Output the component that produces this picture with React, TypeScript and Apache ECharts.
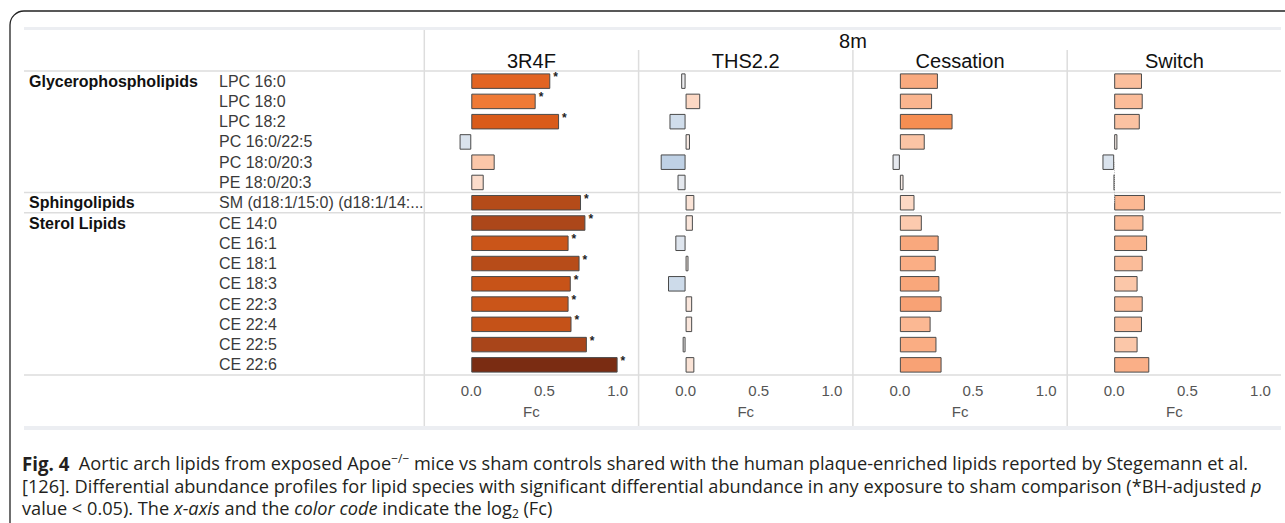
import React, { useEffect, useRef } from "react";
import * as echarts from "echarts";

// ---------------- data ----------------
const lipids = [
  "LPC 16:0",
  "LPC 18:0",
  "LPC 18:2",
  "PC 16:0/22:5",
  "PC 18:0/20:3",
  "PE 18:0/20:3",
  "SM (d18:1/15:0) (d18:1/14:...",
  "CE 14:0",
  "CE 16:1",
  "CE 18:1",
  "CE 18:3",
  "CE 22:3",
  "CE 22:4",
  "CE 22:5",
  "CE 22:6",
];
const groupNames = ["Glycerophospholipids", "Sphingolipids", "Sterol Lipids"];
const groupStarts = [0, 6, 7];

const exposures = ["3R4F", "THS2.2", "Cessation", "Switch"];
const timepoint = "8m";

const fc3R4F = [0.54, 0.44, 0.6, -0.08, 0.16, 0.085, 0.75, 0.78, 0.665, 0.74, 0.68, 0.665, 0.685, 0.79, 1.0];
const fcTHS = [-0.03, 0.1, -0.11, 0.03, -0.17, -0.055, 0.06, 0.05, -0.07, 0.02, -0.12, 0.045, 0.045, -0.02, 0.06];
const fcCessation = [0.26, 0.22, 0.36, 0.17, -0.05, 0.025, 0.1, 0.15, 0.265, 0.245, 0.27, 0.285, 0.21, 0.25, 0.285];
const fcSwitch = [0.19, 0.195, 0.175, 0.022, -0.08, 0, 0.21, 0.2, 0.225, 0.195, 0.16, 0.195, 0.19, 0.16, 0.24];
const seriesValues = [fc3R4F, fcTHS, fcCessation, fcSwitch];

// significance (*BH-adjusted p < 0.05), per exposure
const sig3R4F = [1, 1, 1, 0, 0, 0, 1, 1, 1, 1, 1, 1, 1, 1, 1];
const sigNone = [0, 0, 0, 0, 0, 0, 0, 0, 0, 0, 0, 0, 0, 0, 0];
const significance = [sig3R4F, sigNone, sigNone, sigNone];

const tickValues = [0, 0.5, 1.0];
const axisName = "Fc";

const colorScaleMin = -0.2;
const colorScaleMax = 1.0;
const colorScale = [
  "#b7cbe2", "#d3dfec", "#f8f3f1", "#fcd8c4", "#fbbb97", "#f89e6f", "#f4843f",
  "#e86a28", "#d95b1a", "#c25118", "#a6441a", "#923a16", "#7a2c12",
];

// ---------------- layout ----------------
const W = 1285;
const H = 523;
const GRID_TOP = 71;
const GRID_H = 304;
const PANEL_LEFT0 = 424.3;
const PANEL_W = 214.3;
const X_MIN = -0.321;
const X_MAX = 1.1435;
const FONT = "'Liberation Sans', Arial, sans-serif";
const CAP_FONT = "'Open Sans', 'Noto Sans', sans-serif";
const LINE = "#dddddd";

export default function App() {
  const ref = useRef<HTMLDivElement>(null);

  useEffect(() => {
    if (!ref.current) return;
    const chart = echarts.init(ref.current, null, { renderer: "svg" });
    const rowH = GRID_H / lipids.length;

    const grids = exposures.map((_, i) => ({
      left: PANEL_LEFT0 + i * PANEL_W,
      top: GRID_TOP,
      width: PANEL_W,
      height: GRID_H,
      containLabel: false,
    }));

    const xAxes = exposures.map((_, i) => ({
      type: "value",
      gridIndex: i,
      min: X_MIN,
      max: X_MAX,
      axisLine: { show: false },
      axisTick: { show: false },
      splitLine: { show: false },
      axisLabel: {
        customValues: tickValues,
        formatter: (v: number) => v.toFixed(1),
        color: "#555",
        fontSize: 15,
        fontFamily: FONT,
        margin: 8,
      },
      name: axisName,
      nameLocation: "middle",
      nameGap: 29,
      nameTextStyle: { color: "#555", fontSize: 15, fontFamily: FONT },
    }));

    const yAxes: any[] = exposures.map((_, i) => ({
      type: "category",
      gridIndex: i,
      data: lipids,
      inverse: true,
      position: "left",
      axisLine: { show: false, onZero: false },
      axisTick: { show: false },
      splitLine: { show: false },
      axisLabel:
        i === 0
          ? {
              show: true,
              interval: 0,
              align: "left",
              margin: PANEL_LEFT0 - 219,
              color: "#3a3a3a",
              fontSize: 16,
              fontFamily: FONT,
            }
          : { show: false },
    }));
    // group labels column
    yAxes.push({
      type: "category",
      gridIndex: 0,
      data: lipids,
      inverse: true,
      position: "left",
      offset: 0,
      axisLine: { show: false, onZero: false },
      axisTick: { show: false },
      splitLine: { show: false },
      axisLabel: {
        show: true,
        interval: 0,
        align: "left",
        margin: PANEL_LEFT0 - 29,
        color: "#111",
        fontSize: 16,
        fontWeight: "bold",
        fontFamily: FONT,
        formatter: (_v: string, idx: number) => {
          const g = groupStarts.indexOf(idx);
          return g >= 0 ? groupNames[g] : "";
        },
      },
    });

    const series = exposures.map((name, i) => {
      const vals = seriesValues[i];
      const sig = significance[i];
      const zeroRows = vals
        .map((v, k) => (v === 0 ? k : -1))
        .filter((k) => k >= 0);
      return {
        type: "bar",
        name,
        xAxisIndex: i,
        yAxisIndex: i,
        barWidth: 15.5,
        data: vals.map((v, k) => [v, lipids[k]]),
        itemStyle: { borderColor: "#4a4a4a", borderWidth: 1 },
        label: {
          show: true,
          position: "right",
          distance: 3,
          offset: [0, -4],
          color: "#222",
          fontSize: 12,
          fontWeight: "bold",
          fontFamily: FONT,
          formatter: (p: any) => (sig[p.dataIndex] ? "*" : ""),
        },
        markLine:
          zeroRows.length > 0
            ? {
                silent: true,
                symbol: "none",
                label: { show: false },
                lineStyle: { type: "dotted", color: "#bbbbbb", width: 1 },
                data: zeroRows.map((k) => [
                  { coord: [0, lipids[Math.max(k - 1, 0)]] },
                  { coord: [0, lipids[Math.min(k + 1, lipids.length - 1)]] },
                ]),
              }
            : undefined,
      };
    });

    const graphics: any[] = [];
    // outer frame
    graphics.push({
      type: "rect",
      shape: { x: 10, y: 11, width: 1400, height: 700, r: [14, 0, 0, 0] },
      style: { fill: "none", stroke: "#222", lineWidth: 1.3 },
      silent: true,
    });
    // top & bottom bands
    graphics.push({
      type: "rect",
      shape: { x: 24, y: 27, width: 1257, height: 3 },
      style: { fill: "#eceef2" },
      silent: true,
    });
    graphics.push({
      type: "rect",
      shape: { x: 24, y: 426, width: 1257, height: 4 },
      style: { fill: "#eceef2" },
      silent: true,
    });
    // horizontal rules: header bottom, group separators, axis line
    const hYs = [GRID_TOP, ...groupStarts.slice(1).map((s) => GRID_TOP + s * rowH), GRID_TOP + GRID_H];
    hYs.forEach((y) =>
      graphics.push({
        type: "line",
        shape: { x1: 24, y1: y, x2: 1281, y2: y },
        style: { stroke: LINE, lineWidth: 1.5 },
        silent: true,
      })
    );
    // vertical panel separators
    exposures.forEach((_, i) => {
      const x = PANEL_LEFT0 + i * PANEL_W;
      graphics.push({
        type: "line",
        shape: { x1: x, y1: i === 0 ? 30 : 50, x2: x, y2: 426 },
        style: { stroke: LINE, lineWidth: 1.5 },
        silent: true,
      });
    });
    // header texts
    graphics.push({
      type: "text",
      x: PANEL_LEFT0 + (PANEL_W * exposures.length) / 2,
      y: 41,
      style: {
        text: timepoint,
        fontSize: 20,
        fontFamily: FONT,
        fill: "#111",
        textAlign: "center",
        textVerticalAlign: "middle",
        align: "center",
        verticalAlign: "middle",
      },
      silent: true,
    });
    exposures.forEach((name, i) => {
      graphics.push({
        type: "text",
        x: PANEL_LEFT0 + i * PANEL_W + PANEL_W / 2,
        y: 60.5,
        style: {
          text: name,
          fontSize: 20,
          fontFamily: FONT,
          fill: "#111",
          textAlign: "center",
          textVerticalAlign: "middle",
          align: "center",
          verticalAlign: "middle",
        },
        silent: true,
      });
    });
    // caption
    const capText =
      "{b|Fig. 4}{n|  Aortic arch lipids from exposed Apoe}{sup|−/−}{n| mice vs sham controls shared with the human plaque-enriched lipids reported by Stegemann et al.}\n" +
      "{n|[}{link|126}{n|]. Differential abundance profiles for lipid species with significant differential abundance in any exposure to sham comparison (*BH-adjusted }{i|p}\n" +
      "{n|value < 0.05). The }{i|x-axis}{n| and the }{i|color code}{n| indicate the log}{sub|2}{n| (Fc)}";
    const CAP_SIZE = 18.2;
    const base = { fontSize: CAP_SIZE, fontFamily: CAP_FONT, color: "#231f20", lineHeight: 22.5 };
    graphics.push({
      type: "text",
      x: 22,
      y: 452,
      style: {
        text: capText,
        textAlign: "left",
        textVerticalAlign: "top",
        align: "left",
        verticalAlign: "top",
        fontSize: CAP_SIZE,
        fontFamily: CAP_FONT,
        fill: "#231f20",
        rich: {
          n: base,
          b: { ...base, fontWeight: "bold", fontSize: CAP_SIZE + 0.5 },
          i: { ...base, fontStyle: "italic" },
          link: { ...base, color: "#2f6fc0" },
          sup: { fontSize: 12, fontFamily: CAP_FONT, color: "#231f20", lineHeight: 14, verticalAlign: "top" },
          sub: { fontSize: 12, fontFamily: CAP_FONT, color: "#231f20", lineHeight: 16, verticalAlign: "bottom" },
        },
      },
      silent: true,
    });

    chart.setOption({
      animation: false,
      backgroundColor: "#ffffff",
      textStyle: { fontFamily: FONT },
      grid: grids,
      xAxis: xAxes,
      yAxis: yAxes,
      visualMap: {
        type: "continuous",
        show: false,
        seriesIndex: [0, 1, 2, 3],
        dimension: 0,
        min: colorScaleMin,
        max: colorScaleMax,
        inRange: { color: colorScale },
      },
      series,
      graphic: graphics,
    });

    return () => chart.dispose();
  }, []);

  return (
    <div
      ref={ref}
      style={{ position: "absolute", left: 0, top: 0, width: W, height: H, background: "#fff" }}
    />
  );
}
